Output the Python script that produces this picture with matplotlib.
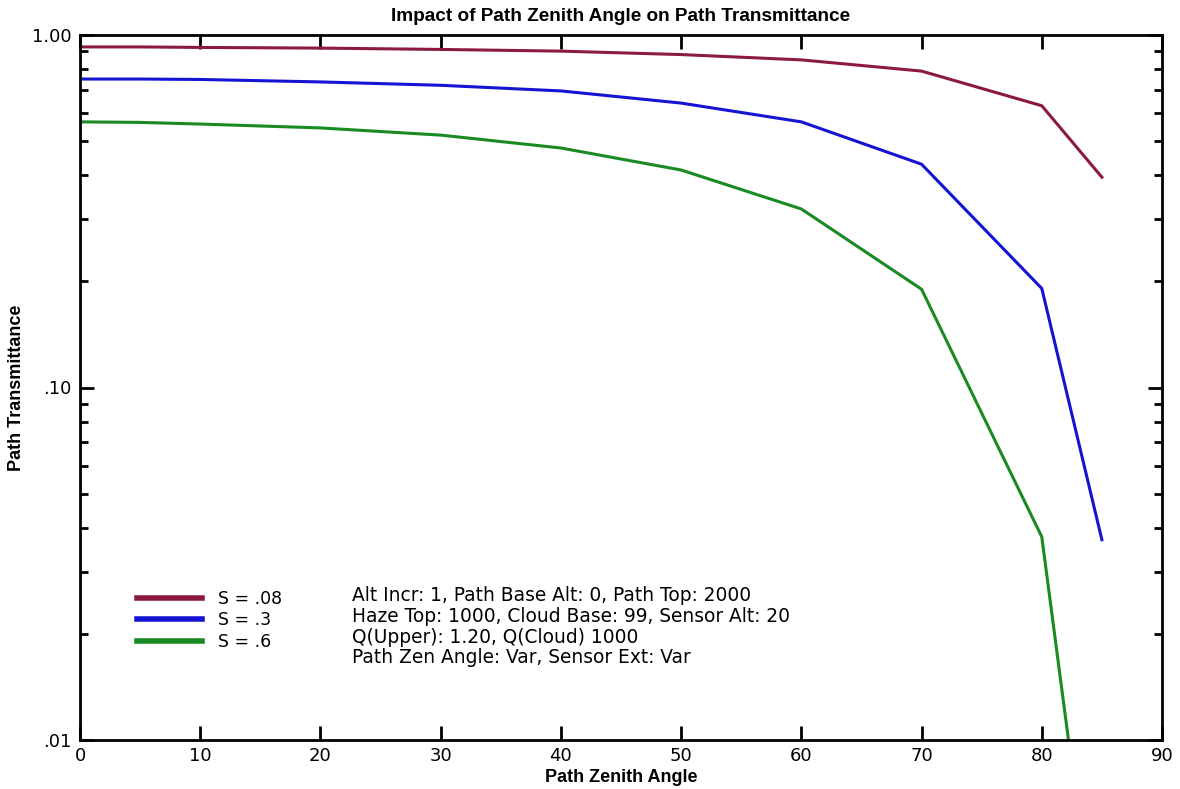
import matplotlib.pyplot as plt
from matplotlib.ticker import FixedLocator, LogLocator, NullFormatter, FixedFormatter

plt.rcParams['font.family'] = ['DejaVu Sans']

# zenith angles and path transmittance per S value
angle = [0, 5, 10, 20, 30, 40, 50, 60, 70, 80, 85]
s008 = [0.925, 0.925, 0.922, 0.918, 0.91, 0.90, 0.88, 0.85, 0.79, 0.63, 0.395]
s03 = [0.75, 0.75, 0.748, 0.736, 0.72, 0.694, 0.641, 0.567, 0.43, 0.191, 0.037]
s06 = [0.567, 0.565, 0.559, 0.545, 0.52, 0.478, 0.414, 0.321, 0.19, 0.0377, 0.0019]

labels = ['S = .08', 'S = .3', 'S = .6']
colors = ['#8b1a3e', '#1414d2', '#1a8a22']

notes = ['Alt Incr: 1, Path Base Alt: 0, Path Top: 2000',
         'Haze Top: 1000, Cloud Base: 99, Sensor Alt: 20',
         'Q(Upper): 1.20, Q(Cloud) 1000',
         'Path Zen Angle: Var, Sensor Ext: Var']

bold_font = dict(family=['Liberation Sans', 'DejaVu Sans'], fontweight='bold')

fig = plt.figure(figsize=(11.8, 7.89), dpi=100)
ax = fig.add_axes([80 / 1180, 49 / 789, 1082 / 1180, 705 / 789])

for ys, lab, c in zip([s008, s03, s06], labels, colors):
    ax.plot(angle, ys, color=c, lw=2.2, label=lab)

ax.set_yscale('log')
ax.set_xlim(0, 90)
ax.set_ylim(0.01, 1.0)

ax.xaxis.set_major_locator(FixedLocator(range(0, 91, 10)))
ax.yaxis.set_major_locator(FixedLocator([0.01, 0.1, 1.0]))
ax.yaxis.set_major_formatter(FixedFormatter(['.01', '.10', '1.00']))
ax.yaxis.set_minor_locator(LogLocator(base=10, subs=range(2, 10)))
ax.yaxis.set_minor_formatter(NullFormatter())

ax.tick_params(axis='both', which='major', direction='in', length=10, width=2,
               top=True, right=True, labelsize=13)
ax.tick_params(axis='x', which='major', pad=5)
ax.tick_params(axis='y', which='major', pad=6)
ax.tick_params(axis='y', which='minor', direction='in', length=6, width=2,
               right=True)

for sp in ax.spines.values():
    sp.set_linewidth(2)

ax.set_title('Impact of Path Zenith Angle on Path Transmittance',
             fontsize=13.7, pad=10, **bold_font)
ax.set_xlabel('Path Zenith Angle', fontsize=13, labelpad=3, **bold_font)
ax.set_ylabel('Path Transmittance', fontsize=13, labelpad=5, **bold_font)

leg = ax.legend(loc='upper left', bbox_to_anchor=(0.038, 0.235), frameon=False,
                fontsize=12.5, handlelength=3.75, handletextpad=0.95,
                labelspacing=0.2)
for h in leg.get_lines():
    h.set_linewidth(4)

ax.text(0.251, 0.219, '\n'.join(notes), transform=ax.transAxes, fontsize=13.4,
        va='top', ha='left', linespacing=1.13)

fig.savefig('out.png', dpi=100)
